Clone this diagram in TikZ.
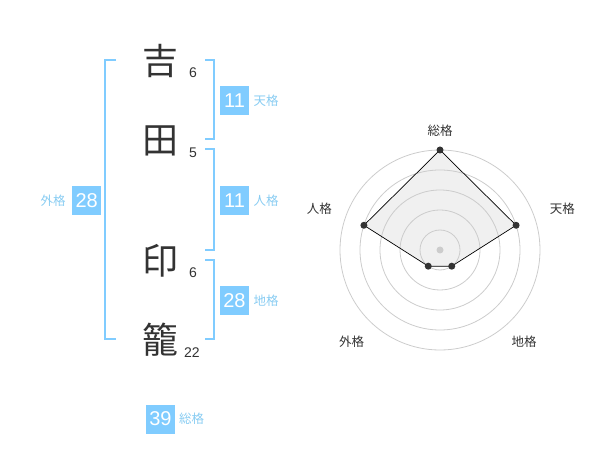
\documentclass[tikz,border=0pt]{standalone}
\usepackage{fontspec}
\setmainfont{Liberation Sans}
\newfontfamily\jp{Noto Sans CJK JP}
\usetikzlibrary{calc}
\definecolor{bl}{HTML}{80CCFF}
\definecolor{lbl}{HTML}{88CCF2}
\definecolor{dk}{HTML}{333333}
\definecolor{ring}{HTML}{CCCCCC}
\definecolor{area}{HTML}{F0F0F0}
\begin{document}
\begin{tikzpicture}[x=1pt,y=-1pt,
  kanji/.style={inner sep=0pt,text=dk,font=\jp\fontsize{36}{36}\selectfont},
  strokes/.style={inner sep=0pt,text=dk,font=\fontsize{14}{14}\selectfont},
  br/.style={draw=bl,line width=2pt},
  numbox/.style={fill=bl,text=white,inner sep=0pt,minimum size=29pt,font=\fontsize{20}{20}\selectfont},
  lab/.style={inner sep=0pt,text=lbl,font=\jp\fontsize{12.5}{12.5}\selectfont},
  rlab/.style={inner sep=0pt,text=dk,font=\jp\fontsize{12.5}{12.5}\selectfont},
  ringline/.style={draw=ring,line width=0.8pt},
  dot/.style={circle,fill=dk,inner sep=0pt,minimum size=7pt}]
\useasboundingbox (0,0) rectangle (600,470);
% name characters
\node[kanji] (k1) at (160,61) {吉};
\node[kanji] (k2) at (160,141) {田};
\node[kanji] (k3) at (160,261) {印};
\node[kanji] (k4) at (160,340) {籠};
\node[strokes] (s1) at (193,72.7) {6};
\node[strokes] (s2) at (193,152.7) {5};
\node[strokes] (s3) at (193,272.7) {6};
\node[strokes] (s4) at (192,352.7) {22};
% brackets
\draw[br] (116,60) -- (105,60) -- (105,339.3) -- (116,339.3);
\draw[br] (205,60) -- (214.3,60) -- (214.3,139.3) -- (205,139.3);
\draw[br] (205,149.3) -- (214.3,149.3) -- (214.3,250) -- (205,250);
\draw[br] (205,260) -- (214.3,260) -- (214.3,339.3) -- (205,339.3);
% boxes
\node[numbox] (b1) at (234.5,100.5) {11};
\node[lab] (l1) at (266,100.5) {天格};
\node[numbox] (b2) at (234.5,200.5) {11};
\node[lab] (l2) at (266,200.5) {人格};
\node[numbox] (b3) at (86.7,200.5) {28};
\node[lab] (l3) at (53,200.5) {外格};
\node[numbox] (b4) at (234.5,300.5) {28};
\node[lab] (l4) at (266,300.5) {地格};
\node[numbox] (b5) at (160.5,419) {39};
\node[lab] (l5) at (191.5,419) {総格};
% radar
\coordinate (c) at (440,250);
\coordinate (p1) at ($(c)+(-90:100)$);
\coordinate (p2) at ($(c)+(-18:80)$);
\coordinate (p3) at ($(c)+(54:20)$);
\coordinate (p4) at ($(c)+(126:20)$);
\coordinate (p5) at ($(c)+(198:80)$);
\fill[area] (p1) -- (p2) -- (p3) -- (p4) -- (p5) -- cycle;
\foreach \r in {20,40,60,80,100} \draw[ringline] (c) circle[radius=\r];
\draw[black,line width=0.7pt] (p1) -- (p2) -- (p3) -- (p4) -- (p5) -- cycle;
\fill[ring] (c) circle[radius=3.5];
\foreach \p in {p1,p2,p3,p4,p5} \node[dot] at (\p) {};
\node[rlab] (r1) at (440,130.7) {総格};
\node[rlab] (r2) at (562.3,208.3) {天格};
\node[rlab] (r3) at (524,341.7) {地格};
\node[rlab] (r4) at (351.7,341.7) {外格};
\node[rlab] (r5) at (319.3,208.3) {人格};
\end{tikzpicture}
\end{document}
